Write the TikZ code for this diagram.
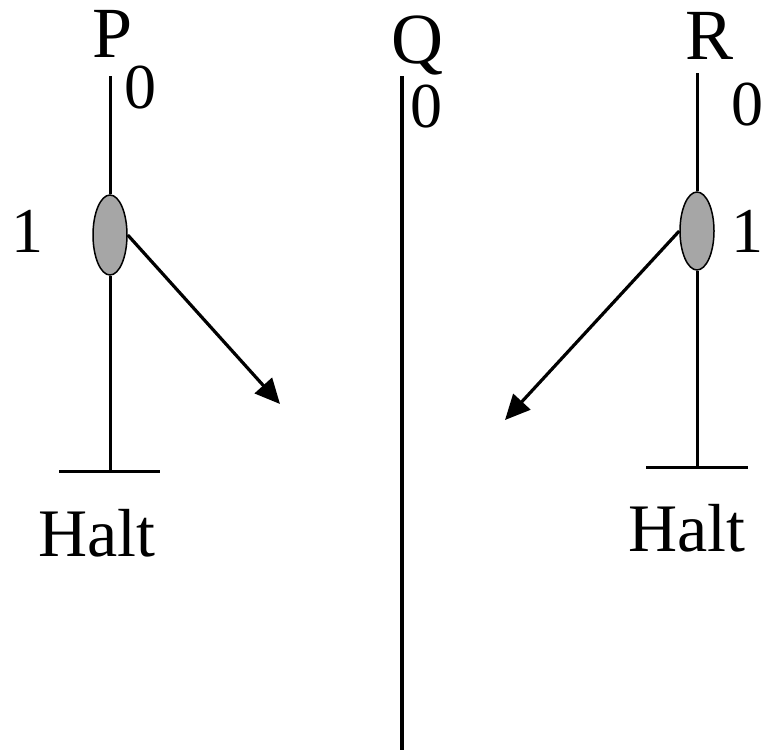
\documentclass[tikz,border=0pt]{standalone}
\usepackage{fontspec}
\setmainfont{LiberationSerif}[Extension=.ttf,UprightFont=*-Regular]
\usetikzlibrary{shapes.geometric,arrows.meta}
\begin{document}
\begin{tikzpicture}[x=1pt,y=-1pt,
  letter/.style={anchor=base,inner sep=0pt,font=\fontsize{72}{80}\selectfont},
  digit/.style={anchor=base,inner sep=0pt,font=\fontsize{64}{70}\selectfont},
  halt/.style={anchor=base,inner sep=0pt,font=\fontsize{68}{76}\selectfont},
  event/.style={ellipse,draw=black,line width=1.5pt,fill=black!35,minimum width=34pt,minimum height=80pt,inner sep=0pt},
  proc/.style={line width=3pt},
  msg/.style={line width=3.2pt,-{Triangle[length=25pt,width=23pt]}}]
\useasboundingbox (0,0) rectangle (762,750);
% P
\node[letter] (P) at (113,57) {P};
\node[digit] (P0) at (140,108) {0};
\node[digit] (P1) at (28,252) {1};
\node[halt] (PH) at (97,556) {Halt};
\coordinate (Ptop) at (110,76);
\coordinate (Pbot) at (110,471);
\coordinate (PbarL) at (59,471);
\coordinate (PbarR) at (160,471);
\node[event] (Pe) at (110,235) {};
\draw[proc] (Ptop) -- (Pe.north);
\draw[proc] (Pe.south) -- (Pbot);
\draw[proc] (PbarL) -- (PbarR);
\coordinate (Ptip) at (280,404);
\draw[msg] (Pe.east) -- (Ptip);
% Q
\node[letter] (Q) at (417,63) {Q};
\node[digit] (Q0) at (426,127) {0};
\coordinate (Qtop) at (402,76);
\coordinate (Qbot) at (402,750);
\draw[line width=3.5pt] (Qtop) -- (Qbot);
% R
\node[letter] (R) at (709,59) {R};
\node[digit] (R0) at (747,125) {0};
\node[digit] (R1) at (747,252) {1};
\node[halt] (RH) at (687,551) {Halt};
\coordinate (Rtop) at (697,73);
\coordinate (Rbot) at (697,467);
\coordinate (RbarL) at (646,467);
\coordinate (RbarR) at (748,467);
\node[event,minimum height=78pt] (Re) at (697,231) {};
\draw[proc] (Rtop) -- (Re.north);
\draw[proc] (Re.south) -- (Rbot);
\draw[proc] (RbarL) -- (RbarR);
\coordinate (Rtip) at (505,420);
\draw[msg] (Re.west) -- (Rtip);
\end{tikzpicture}
\end{document}
